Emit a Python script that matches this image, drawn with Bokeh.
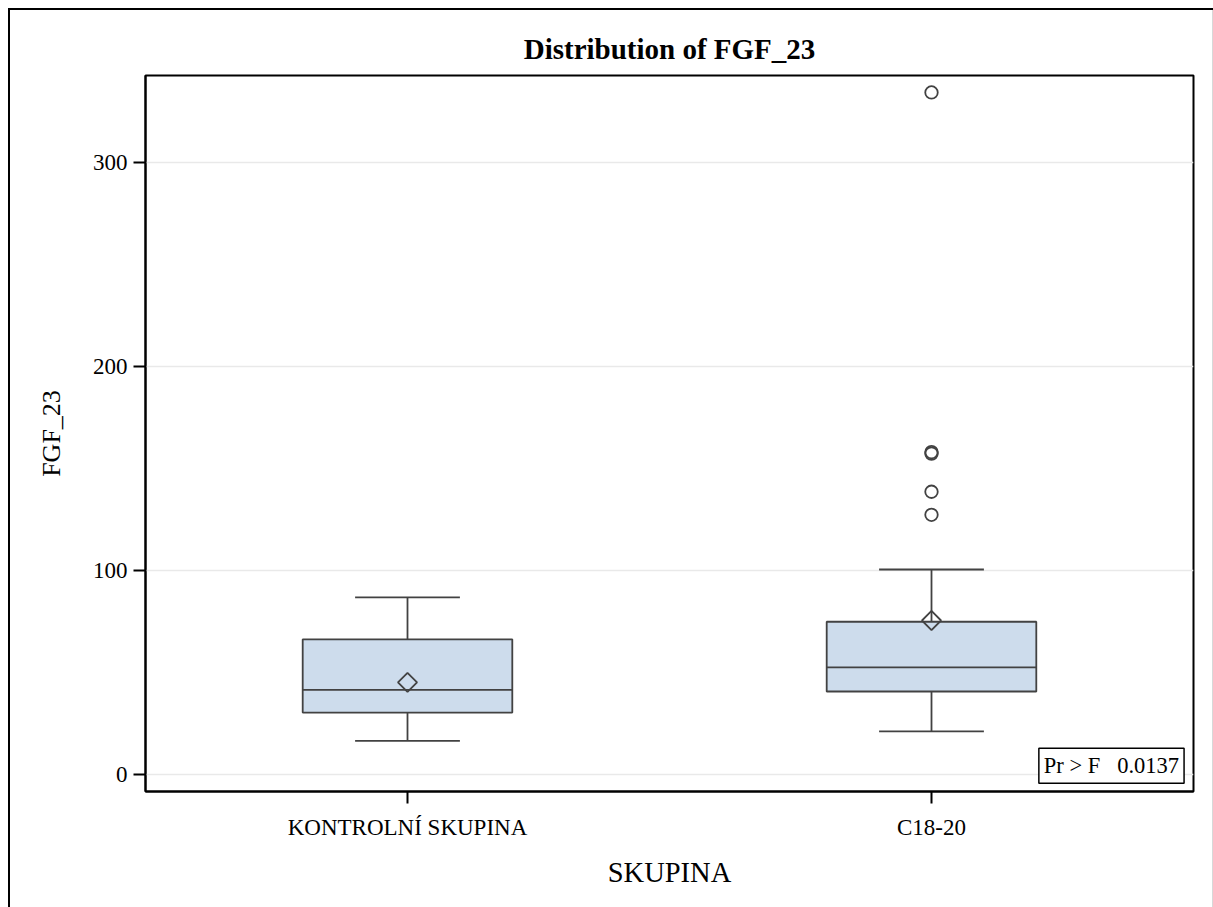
import math
from bokeh.plotting import figure
from bokeh.models import ColumnDataSource, FactorRange, Range1d, FixedTicker, Label
from bokeh.transform import dodge
from bokeh.embed import file_html
from bokeh.resources import INLINE

# ---- data ----
categories = ["KONTROLNÍ SKUPINA", "C18-20"]
q1 = [30.4, 40.7]
median = [41.5, 52.5]
q3 = [66.3, 74.9]
mean = [45.2, 75.5]
whisker_lo = [16.5, 21.2]
whisker_hi = [86.8, 100.5]
outlier_group = ["C18-20", "C18-20", "C18-20", "C18-20", "C18-20"]
outlier_vals = [334.3, 158.0, 157.3, 138.6, 127.3]
y_ticks = [0, 100, 200, 300]
p_label = "Pr > F"
p_value = "0.0137"

FONT = "Liberation Serif"
EDGE = "#424242"
FILL = "#cddcec"
LW = 1.8

src = ColumnDataSource(dict(cat=categories, q1=q1, med=median, q3=q3, mean=mean,
                            lo=whisker_lo, hi=whisker_hi))
osrc = ColumnDataSource(dict(cat=outlier_group, val=outlier_vals))

p = figure(x_range=FactorRange(*categories, range_padding=0),
           y_range=Range1d(-8.3, 342.6),
           width=1205, height=899, output_backend="svg", toolbar_location=None,
           min_border_left=137, min_border_right=20, min_border_top=67, min_border_bottom=116,
           title="Distribution of FGF_23")
p.styles = {"margin-left": "8px", "margin-top": "8px", "background-color": "white",
            "box-shadow": "inset 2px 2px 0 0 black, inset -1px 0 0 0 #d8d8d8"}

p.title.align = "center"
p.title.text_font = FONT
p.title.text_font_style = "bold"
p.title.text_font_size = "29px"
p.title.text_color = "black"
p.title.standoff = 22

p.outline_line_color = "black"
p.outline_line_width = 2
p.background_fill_color = "white"
p.border_fill_color = None

p.xgrid.visible = False
p.ygrid.ticker = FixedTicker(ticks=y_ticks)
p.ygrid.grid_line_color = "#e9e9e9"
p.ygrid.grid_line_width = 1.5

p.yaxis.ticker = FixedTicker(ticks=y_ticks)
for ax in (p.xaxis[0], p.yaxis[0]):
    ax.axis_line_color = "black"
    ax.axis_line_width = 2
    ax.major_tick_line_color = "black"
    ax.major_tick_line_width = 2
    ax.major_tick_out = 12
    ax.major_tick_in = 0
    ax.minor_tick_line_color = None
    ax.major_label_text_font = FONT
    ax.major_label_text_font_size = "23px"
    ax.major_label_text_color = "black"
    ax.axis_label_text_font = FONT
    ax.axis_label_text_font_style = "normal"
    ax.axis_label_text_color = "black"

p.xaxis.axis_label = "SKUPINA"
p.yaxis.axis_label = "FGF_23"
p.xaxis.axis_label_text_font_size = "28.5px"
p.yaxis.axis_label_text_font_size = "26px"
p.xaxis.major_label_standoff = 11
p.xaxis.axis_label_standoff = 14
p.yaxis.major_label_standoff = 6
p.yaxis.axis_label_standoff = 24

# whiskers (stems)
p.segment(x0="cat", y0="lo", x1="cat", y1="q1", source=src, line_color=EDGE, line_width=LW)
p.segment(x0="cat", y0="q3", x1="cat", y1="hi", source=src, line_color=EDGE, line_width=LW)
# caps
p.segment(x0=dodge("cat", -0.1, range=p.x_range), y0="lo",
          x1=dodge("cat", 0.1, range=p.x_range), y1="lo", source=src, line_color=EDGE, line_width=LW)
p.segment(x0=dodge("cat", -0.1, range=p.x_range), y0="hi",
          x1=dodge("cat", 0.1, range=p.x_range), y1="hi", source=src, line_color=EDGE, line_width=LW)
# box
p.vbar(x="cat", width=0.4, bottom="q1", top="q3", source=src,
       fill_color=FILL, line_color=EDGE, line_width=LW)
# median
p.segment(x0=dodge("cat", -0.2, range=p.x_range), y0="med",
          x1=dodge("cat", 0.2, range=p.x_range), y1="med", source=src, line_color=EDGE, line_width=LW)
# mean
p.scatter(x="cat", y="mean", source=src, marker="square", angle=math.pi / 4, size=13.5,
          fill_color=None, line_color=EDGE, line_width=LW)
# outliers
p.scatter(x="cat", y="val", source=osrc, marker="circle", size=12.5,
          fill_color=None, line_color=EDGE, line_width=LW)

# inset statistic
p.add_layout(Label(x=1.982, y=-4.2, text=p_label + "\u00a0\u00a0\u00a0" + p_value,
                   text_font=FONT, text_font_size="22.5px", text_color="black",
                   anchor="bottom_right", padding=5,
                   background_fill_color="white", border_line_color="black", border_line_width=1.5))

open("out.html", "w").write(file_html(p, INLINE))
